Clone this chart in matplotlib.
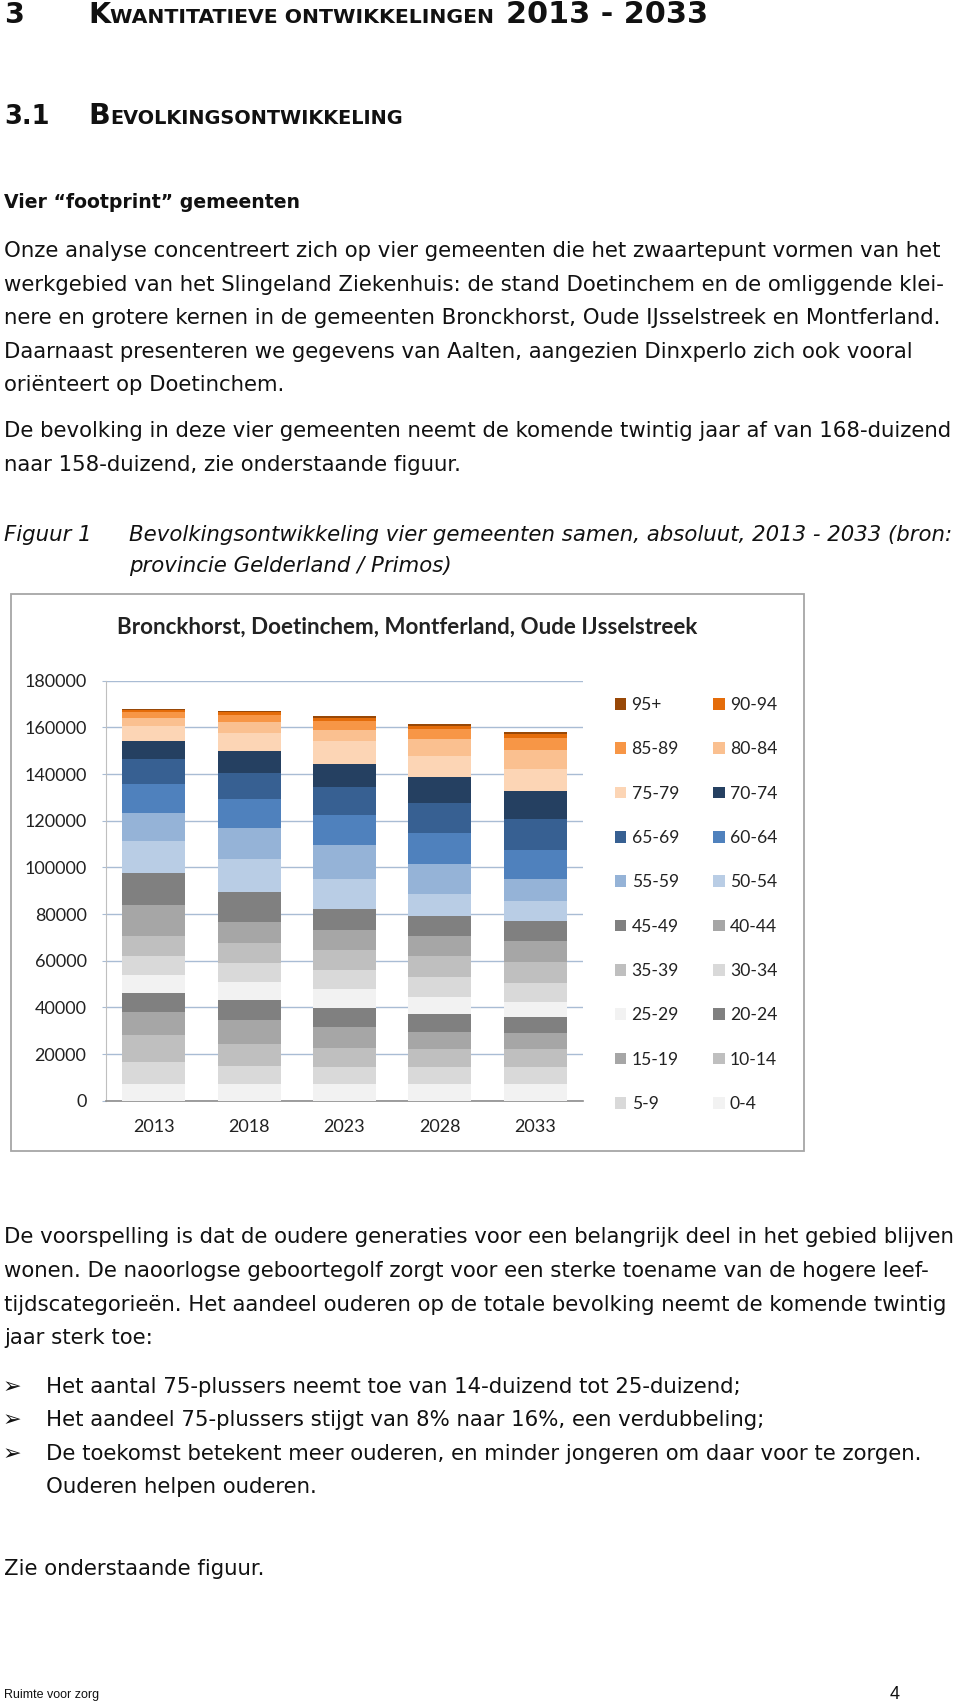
import matplotlib
matplotlib.use('Agg')
import matplotlib.pyplot as plt
from matplotlib.patches import Patch, Rectangle
import numpy as np

# ---------------- data ----------------
years = ['2013', '2018', '2023', '2028', '2033']
age_groups = ['0-4', '5-9', '10-14', '15-19', '20-24', '25-29', '30-34', '35-39',
              '40-44', '45-49', '50-54', '55-59', '60-64', '65-69', '70-74',
              '75-79', '80-84', '85-89', '90-94', '95+']
pop_2013 = [7100, 9600, 11400, 9900, 8200, 7500, 8200, 8900, 12860, 14000,
            13430, 12290, 12140, 11000, 7430, 6430, 3430, 2570, 1140, 430]
pop_2018 = [7200, 7700, 9600, 10290, 8290, 7800, 8100, 8430, 9290, 12720,
            14000, 13570, 12140, 11140, 9710, 7430, 4710, 3140, 1140, 570]
pop_2023 = [7140, 7500, 7860, 9290, 8140, 7900, 8300, 8290, 8860, 9000,
            12860, 14290, 13140, 11710, 10140, 9570, 5000, 3570, 1430, 710]
pop_2028 = [7140, 7430, 7430, 7430, 7570, 7570, 8570, 8860, 8570, 8570,
            9430, 12860, 13430, 12570, 11140, 9290, 7140, 4140, 1430, 860]
pop_2033 = [7140, 7430, 7430, 6860, 6860, 6430, 8400, 8740, 9140, 8700,
            8440, 9300, 12570, 13290, 12140, 9300, 8140, 5000, 1710, 860]
y_ticks = [0, 20000, 40000, 60000, 80000, 100000, 120000, 140000, 160000, 180000]
chart_title = 'Bronckhorst, Doetinchem, Montferland, Oude IJsselstreek'

seg_colors = ['#f2f2f2', '#d9d9d9', '#bfbfbf', '#a6a6a6', '#808080',
              '#f2f2f2', '#d9d9d9', '#bfbfbf', '#a6a6a6', '#808080',
              '#b9cde5', '#95b3d7', '#4f81bd', '#376092', '#254061',
              '#fcd5b5', '#fac090', '#f79646', '#e46c0a', '#984807']

# ---------------- figure ----------------
W, H = 960, 1703
fig = plt.figure(figsize=(W / 100, H / 100), dpi=100)
fig.patch.set_facecolor('white')
renderer = fig.canvas.get_renderer()


def fx(x):
    return x / W


def fy(y):
    return 1 - y / H


BODY = 15.3
BODYFONT = ['DejaVu Sans']


def txt(x, y, s, size=BODY, **kw):
    kw.setdefault('family', BODYFONT)
    kw.setdefault('color', '#111111')
    return fig.text(fx(x), fy(y), s, fontsize=size, va='baseline', ha='left', **kw)


def seq(x, y, pieces):
    for s, size, gap in pieces:
        t = txt(x, y, s, size=size, weight='bold')
        x += t.get_window_extent(renderer).width + gap


# Headings (small caps emulation)
BIG = 20.5
txt(4, 23, '3', size=BIG, weight='bold')
seq(88, 23, [('K', BIG, 0), ('WANTITATIEVE ONTWIKKELINGEN', 14.7, 0)])
txt(506, 23, '2013 - 2033', size=21.8, weight='bold')
txt(4, 124, '3.1', size=18.5, weight='bold')
seq(88, 124, [('B', BIG, 0), ('EVOLKINGSONTWIKKELING', 13.85, 0)])

txt(4, 208, 'Vier \u201cfootprint\u201d gemeenten', size=13.6, weight='bold')

lines1 = [
    (257, 'Onze analyse concentreert zich op vier gemeenten die het zwaartepunt vormen van het'),
    (291, 'werkgebied van het Slingeland Ziekenhuis: de stand Doetinchem en de omliggende klei-'),
    (324, 'nere en grotere kernen in de gemeenten Bronckhorst, Oude IJsselstreek en Montferland.'),
    (358, 'Daarnaast presenteren we gegevens van Aalten, aangezien Dinxperlo zich ook vooral'),
    (391, 'ori\u00ebnteert op Doetinchem.'),
    (437, 'De bevolking in deze vier gemeenten neemt de komende twintig jaar af van 168-duizend'),
    (471, 'naar 158-duizend, zie onderstaande figuur.'),
]
for y, s in lines1:
    txt(4, y, s)

txt(4, 541, 'Figuur 1', style='italic')
txt(129, 541, 'Bevolkingsontwikkeling vier gemeenten samen, absoluut, 2013 - 2033 (bron:',
    style='italic')
txt(129, 572, 'provincie Gelderland / Primos)', style='italic')

lines2 = [
    (1243, 'De voorspelling is dat de oudere generaties voor een belangrijk deel in het gebied blijven'),
    (1277, 'wonen. De naoorlogse geboortegolf zorgt voor een sterke toename van de hogere leef-'),
    (1311, 'tijdscategorie\u00ebn. Het aandeel ouderen op de totale bevolking neemt de komende twintig'),
    (1344, 'jaar sterk toe:'),
]
for y, s in lines2:
    txt(4, y, s)

bullets = [
    (1393, 'Het aantal 75-plussers neemt toe van 14-duizend tot 25-duizend;'),
    (1426, 'Het aandeel 75-plussers stijgt van 8% naar 16%, een verdubbeling;'),
    (1460, 'De toekomst betekent meer ouderen, en minder jongeren om daar voor te zorgen.'),
]
for y, s in bullets:
    txt(3, y, '\u27a2', size=16)
    txt(46, y, s)
txt(46, 1493, 'Ouderen helpen ouderen.')
txt(4, 1575, 'Zie onderstaande figuur.')

txt(4, 1698, 'Ruimte voor zorg', size=9, family=['Liberation Sans'])
txt(890, 1699, '4', size=13, family=['Liberation Sans'])

# ---------------- chart ----------------
CHARTFONT = ['Lato', 'DejaVu Sans']
fig.add_artist(Rectangle((fx(11), fy(1151)), (804 - 11) / W, (1151 - 594) / H,
                         transform=fig.transFigure, fill=False,
                         edgecolor='#a6a6a6', linewidth=1.3))
fig.text(fx(407), fy(627), chart_title, ha='center', va='center',
         fontsize=16.1, weight='bold', family=CHARTFONT, color='#222222')

ax = fig.add_axes([fx(106), fy(1100.7), 477 / W, 420 / H])
data = np.array([pop_2013, pop_2018, pop_2023, pop_2028, pop_2033]).T
xpos = np.arange(len(years))
bottom = np.zeros(len(years))
for i, ag in enumerate(age_groups):
    ax.bar(xpos, data[i], 0.66, bottom=bottom, color=seg_colors[i],
           label=ag, zorder=3, linewidth=0)
    bottom += data[i]

ax.set_xlim(-0.5, len(years) - 0.5)
ax.set_ylim(0, 180000)
ax.set_yticks(y_ticks)
ax.set_yticklabels([str(v) for v in y_ticks])
ax.set_xticks(xpos)
ax.set_xticklabels(years)
ax.yaxis.grid(True, color='#a9bcd4', linewidth=1.0)
ax.set_axisbelow(True)
for s in ['top', 'right']:
    ax.spines[s].set_visible(False)
ax.spines['left'].set_color('#bfbfbf')
ax.spines['bottom'].set_color('#8c8c8c')
ax.spines['bottom'].set_linewidth(1.2)
ax.tick_params(axis='y', length=3, color='#a9bcd4', pad=11, labelsize=13,
               labelcolor='#222222')
ax.tick_params(axis='x', length=0, pad=13, labelsize=13, labelcolor='#222222')
for lab in ax.get_xticklabels() + ax.get_yticklabels():
    lab.set_family(CHARTFONT)

# legend: row-wise from 95+ down to 0-4 in two columns
rev = list(range(len(age_groups)))[::-1]
order = rev[0::2] + rev[1::2]
handles = [Patch(facecolor=seg_colors[i], edgecolor='none') for i in order]
labels = [age_groups[i] for i in order]
fig.legend(handles, labels, loc='upper left', bbox_to_anchor=(fx(615), fy(697)),
           ncol=2, frameon=False, prop={'family': CHARTFONT, 'size': 12.6},
           handlelength=0.65, handleheight=0.65, handletextpad=0.3,
           columnspacing=1.95, labelspacing=1.62, borderpad=0, borderaxespad=0,
           labelcolor='#222222')

fig.savefig('out.png', dpi=100, facecolor='white')
